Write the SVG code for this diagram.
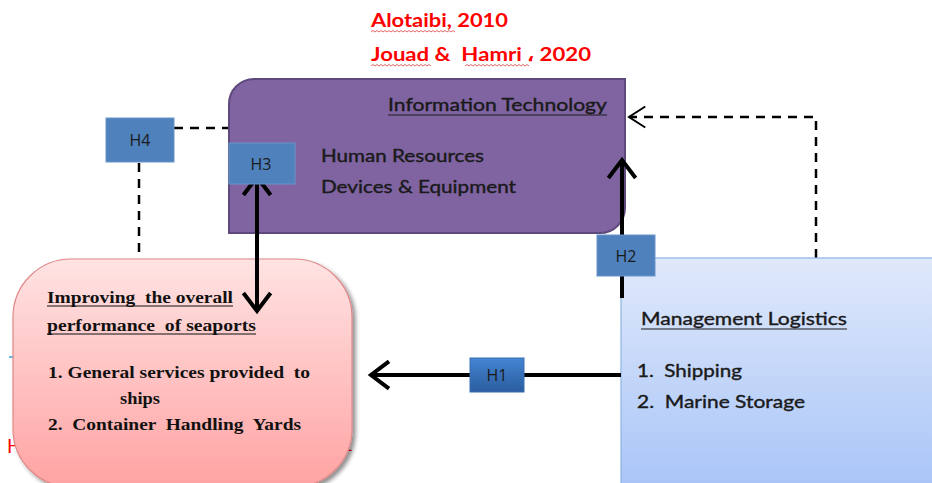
<svg xmlns="http://www.w3.org/2000/svg" width="932" height="483" viewBox="0 0 932 483">
<defs>
<style>
.cal{font-family:Lato,"Open Sans","Liberation Sans",sans-serif;stroke:#1a1a1a;stroke-width:0.4;}
.ser{font-family:"Liberation Serif","Times New Roman",serif;font-weight:bold;font-size:16px;fill:#111;}
.hb{fill:#4F81BD;stroke:#6A93C8;stroke-width:1;}
.ht{font-family:"Open Sans","Liberation Sans",sans-serif;font-size:16px;fill:#1a1a1a;text-anchor:middle;}
.solid{stroke:#000;stroke-width:4;fill:none;}
.dash{stroke:#000;stroke-width:2.5;fill:none;stroke-dasharray:9,7;}
.wavy{stroke:#E04040;stroke-width:0.8;fill:none;}
.red{font-family:Lato,"Open Sans","Liberation Sans","Noto Sans",sans-serif;font-weight:bold;font-size:19px;fill:#FF0000;}
</style>
<linearGradient id="gPink" x1="0" y1="0" x2="0" y2="1">
<stop offset="0" stop-color="#FFE3E3"/>
<stop offset="1" stop-color="#FFA3A3"/>
</linearGradient>
<linearGradient id="gBlue" x1="0" y1="0" x2="0" y2="1">
<stop offset="0" stop-color="#E0E9FB"/>
<stop offset="1" stop-color="#A6C3F7"/>
</linearGradient>
<linearGradient id="gH1" x1="0" y1="0" x2="0" y2="1">
<stop offset="0" stop-color="#4485D3"/>
<stop offset="1" stop-color="#2B5C9E"/>
</linearGradient>
<filter id="sh" x="-10%" y="-10%" width="130%" height="130%">
<feGaussianBlur in="SourceAlpha" stdDeviation="2"/>
<feOffset dx="3" dy="3" result="o"/>
<feComponentTransfer><feFuncA type="linear" slope="0.45"/></feComponentTransfer>
<feMerge><feMergeNode/><feMergeNode in="SourceGraphic"/></feMerge>
</filter>
<marker id="ahSolid" markerWidth="6" markerHeight="8" refX="5" refY="4" orient="auto-start-reverse" markerUnits="strokeWidth">
<path d="M0.5,0.6 L5,4 L0.5,7.4" fill="none" stroke="#000" stroke-width="1"/>
</marker>
<marker id="ahDash" markerWidth="8" markerHeight="10" refX="7" refY="5" orient="auto" markerUnits="strokeWidth">
<path d="M0.5,0.8 L7,5 L0.5,9.2" fill="none" stroke="#000" stroke-width="0.8"/>
</marker>
</defs>
<rect width="932" height="483" fill="#fff"/>

<g id="citations">
<text class="red" x="371" y="27" textLength="137" lengthAdjust="spacingAndGlyphs">Alotaibi, 2010</text>
<text class="red" x="371" y="61" textLength="220" lengthAdjust="spacingAndGlyphs" xml:space="preserve">Jouad &amp;  Hamri ، 2020</text>
<path class="wavy" d="M371,32 l2,-1.5 l2,1.5 l2,-1.5 l2,1.5 l2,-1.5 l2,1.5 l2,-1.5 l2,1.5 l2,-1.5 l2,1.5 l2,-1.5 l2,1.5 l2,-1.5 l2,1.5 l2,-1.5 l2,1.5 l2,-1.5 l2,1.5 l2,-1.5 l2,1.5 l2,-1.5 l2,1.5 l2,-1.5 l2,1.5 l2,-1.5 l2,1.5 l2,-1.5 l2,1.5 l2,-1.5 l2,1.5 l2,-1.5 l2,1.5 l2,-1.5 l2,1.5 l2,-1.5 l2,1.5 l2,-1.5 l2,1.5 l2,-1.5 l2,1.5 l2,-1.5 l2,1.5"/>
<path class="wavy" d="M371,66 l2,-1.5 l2,1.5 l2,-1.5 l2,1.5 l2,-1.5 l2,1.5 l2,-1.5 l2,1.5 l2,-1.5 l2,1.5 l2,-1.5 l2,1.5 l2,-1.5 l2,1.5 l2,-1.5 l2,1.5 l2,-1.5 l2,1.5 l2,-1.5 l2,1.5 l2,-1.5 l2,1.5 l2,-1.5 l2,1.5 l2,-1.5 l2,1.5 l2,-1.5 l2,1.5 l2,-1.5 l2,1.5"/>
<path class="wavy" d="M465,66 l2,-1.5 l2,1.5 l2,-1.5 l2,1.5 l2,-1.5 l2,1.5 l2,-1.5 l2,1.5 l2,-1.5 l2,1.5 l2,-1.5 l2,1.5 l2,-1.5 l2,1.5 l2,-1.5 l2,1.5 l2,-1.5 l2,1.5 l2,-1.5 l2,1.5 l2,-1.5 l2,1.5 l2,-1.5 l2,1.5 l2,-1.5 l2,1.5 l2,-1.5 l2,1.5 l2,-1.5 l2,1.5 l2,-1.5 l2,1.5"/>
</g>

<g id="background-fragments">
<line x1="9" y1="357" x2="14" y2="357" stroke="#33A0E0" stroke-width="1.5"/>
<text x="7" y="453" font-family="Lato,'Liberation Sans',sans-serif" font-size="19" fill="#FF0000">H</text>
<text x="342" y="451" font-family="Lato,'Liberation Sans',sans-serif" font-size="19" fill="#FF0000">1</text>
</g>

<g id="connectors-dashed">
<path class="dash" d="M174,128 L230,128"/>
<path class="dash" d="M139,163 L139,260"/>
<path class="dash" d="M816,258 L816,117 L629,117" marker-end="url(#ahDash)"/>
</g>

<g id="node-it">
<path d="M229,104 A25,25 0 0 1 254,79 L625,79 L625,208 A25,25 0 0 1 600,233 L229,233 Z" fill="#8064A2" stroke="#5E4A7C" stroke-width="2"/>
<text class="cal" x="388" y="111" font-size="18" fill="#1a1a1a" textLength="219" lengthAdjust="spacingAndGlyphs">Information Technology</text>
<line x1="388" y1="115" x2="607" y2="115" stroke="#1a1a1a" stroke-width="1.2"/>
<text class="cal" x="321" y="162" font-size="18" fill="#1a1a1a" textLength="163" lengthAdjust="spacingAndGlyphs">Human Resources</text>
<text class="cal" x="321" y="193" font-size="18" fill="#1a1a1a" textLength="195" lengthAdjust="spacingAndGlyphs">Devices &amp; Equipment</text>
</g>

<g id="node-seaports">
<rect x="13" y="259" width="339" height="228" rx="58" ry="58" fill="url(#gPink)" stroke="#E08888" stroke-width="1.2" filter="url(#sh)"/>
<text class="ser" x="47" y="303" textLength="186" lengthAdjust="spacingAndGlyphs" xml:space="preserve">Improving  the overall</text>
<line x1="47" y1="306" x2="233" y2="306" stroke="#111" stroke-width="1.2"/>
<text class="ser" x="47" y="331" textLength="209" lengthAdjust="spacingAndGlyphs" xml:space="preserve">performance  of seaports</text>
<line x1="47" y1="334" x2="256" y2="334" stroke="#111" stroke-width="1.2"/>
<text class="ser" x="48" y="378" textLength="262" lengthAdjust="spacingAndGlyphs" xml:space="preserve">1. General services provided  to</text>
<text class="ser" x="120" y="404" textLength="40" lengthAdjust="spacingAndGlyphs">ships</text>
<text class="ser" x="48" y="430" textLength="253" lengthAdjust="spacingAndGlyphs" xml:space="preserve">2.  Container  Handling  Yards</text>
</g>

<g id="node-logistics">
<rect x="621" y="258" width="330" height="240" fill="url(#gBlue)" stroke="#8EB4E3" stroke-width="1.2"/>
<text class="cal" x="641" y="325" font-size="18" fill="#1a1a1a" textLength="206" lengthAdjust="spacingAndGlyphs">Management Logistics</text>
<line x1="641" y1="329" x2="847" y2="329" stroke="#1a1a1a" stroke-width="1.2"/>
<text class="cal" x="637" y="377" font-size="18" fill="#1a1a1a" textLength="105" lengthAdjust="spacingAndGlyphs" xml:space="preserve">1.  Shipping</text>
<text class="cal" x="637" y="408" font-size="18" fill="#1a1a1a" textLength="168" lengthAdjust="spacingAndGlyphs" xml:space="preserve">2.  Marine Storage</text>
</g>

<g id="connectors-solid">
<path class="solid" d="M257,177 L257,311" marker-start="url(#ahSolid)" marker-end="url(#ahSolid)"/>
<path class="solid" d="M622,298 L622,160" marker-end="url(#ahSolid)"/>
<path class="solid" d="M621,375 L371,375" marker-end="url(#ahSolid)"/>
</g>

<g id="label-h4">
<rect class="hb" x="106" y="118" width="68" height="44"/>
<text class="ht" x="140" y="146">H4</text>
</g>
<g id="label-h3">
<rect class="hb" x="229" y="143" width="66" height="41" stroke="none"/>
<text class="ht" x="261" y="170">H3</text>
</g>
<g id="label-h2">
<rect class="hb" x="597" y="235" width="58" height="41"/>
<text class="ht" x="626" y="262">H2</text>
</g>
<g id="label-h1">
<rect x="470" y="358" width="54" height="34" fill="url(#gH1)" stroke="#3A6EB0" stroke-width="1"/>
<text class="ht" x="497" y="381" font-size="14">H1</text>
</g>
</svg>
